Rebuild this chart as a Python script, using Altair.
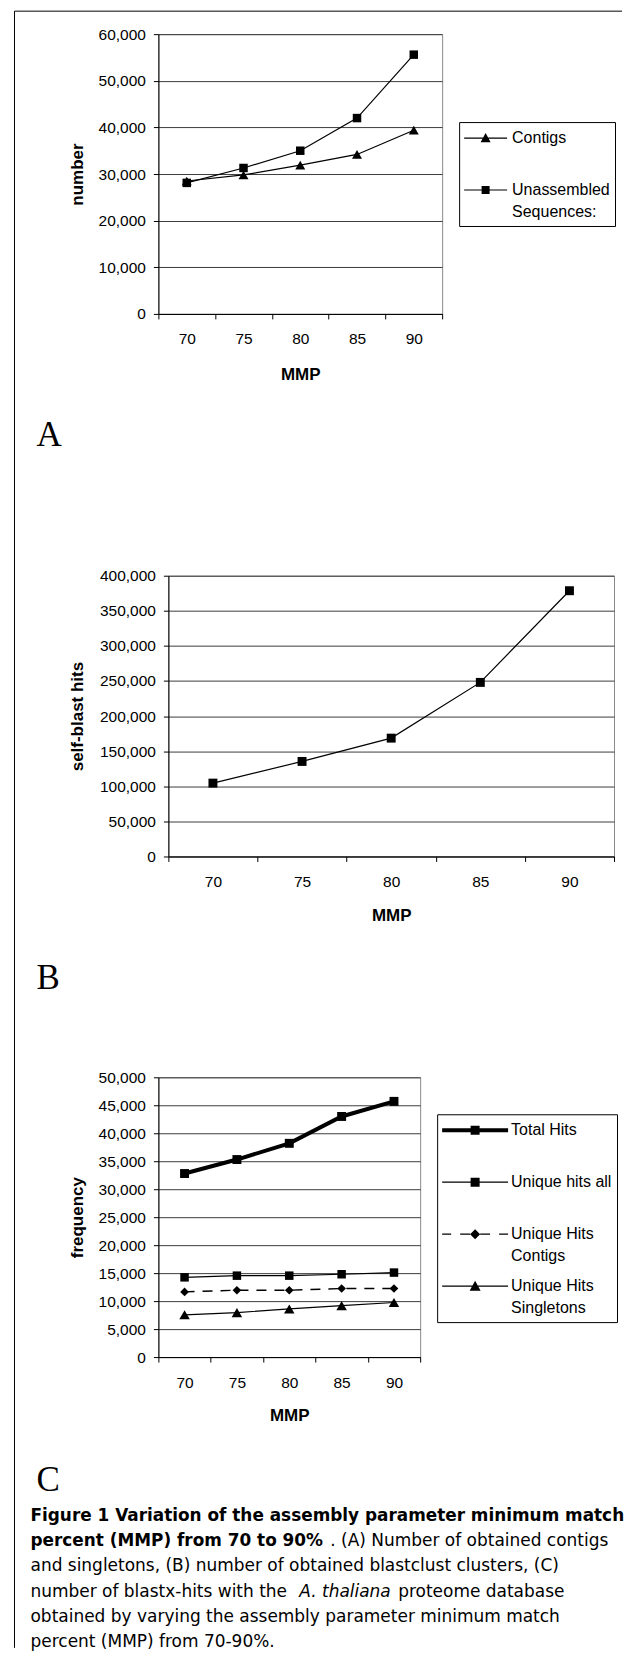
import altair as alt
import pandas as pd

# ---------------- data ----------------
MMP = [70, 75, 80, 85, 90]

A_SERIES = ["Contigs", "Unassembled|Sequences:"]
A_CONTIGS = [28500, 29800, 31900, 34200, 39400]
A_UNASSEMBLED = [28100, 31300, 35000, 42000, 55600]
A_TICKS = [0, 10000, 20000, 30000, 40000, 50000, 60000]

B_SERIES = ["self-blast hits"]
B_SELFBLAST = [104500, 135400, 168600, 248000, 378600]
B_TICKS = [0, 50000, 100000, 150000, 200000, 250000, 300000, 350000, 400000]

C_SERIES = ["Total Hits", "Unique hits all", "Unique Hits|Contigs", "Unique Hits|Singletons"]
C_TOTAL = [32800, 35300, 38200, 43000, 45700]
C_UNIQUE_ALL = [14250, 14550, 14550, 14800, 15100]
C_UNIQUE_CONTIGS = [11650, 11950, 11950, 12250, 12250]
C_UNIQUE_SINGLETONS = [7550, 7950, 8600, 9200, 9750]
C_TICKS = [0, 5000, 10000, 15000, 20000, 25000, 30000, 35000, 40000, 45000, 50000]

CAPTION = [
    [("Figure 1 Variation of the assembly parameter minimum match", "bold")],
    [("percent (MMP) from 70 to 90%", "bold"), (". (A) Number of obtained contigs", "normal")],
    [("and singletons, (B) number of obtained blastclust clusters, (C)", "normal")],
    [("number of blastx-hits with the", "normal"), ("A. thaliana", "italic"), ("proteome database", "normal")],
    [("obtained by varying the assembly parameter minimum match", "normal")],
    [("percent (MMP) from 70-90%.", "normal")],
]

# ---------------- layout (page pixels) ----------------
LAB = "Liberation Sans"
SERIF = "Liberation Serif"
CAPFONT = "DejaVu Sans"

A_O = (158, 33); A_W, A_H = 284, 280
B_O = (168, 575); B_W, B_H = 446, 281
C_O = (158, 1077); C_W, C_H = 262, 280
TITLE_X_ABS = 77
LETTER_X_ABS = 36
CAP_X = [[30], [30, 330], [30], [30, 299, 398], [30], [30]]
CAP_Y = [1516, 1541, 1566, 1592, 1617, 1642]
FRAME = dict(left=14, top=10, bottom=1648, right=622)
LEG_CELL = 22          # legend symbol cell (px)


def long_df(names, lists):
    rows = []
    for n, vals in zip(names, lists):
        for m, v in zip(MMP, vals):
            rows.append({"series": n, "mmp": m, "value": v})
    return pd.DataFrame(rows)


def encodings(ticks, ymax, origin, h, y_title, x_title_y):
    x = alt.X("mmp:O",
              scale=alt.Scale(type="band", paddingInner=0, paddingOuter=0),
              axis=alt.Axis(title="MMP", labelAngle=0, tickBand="extent", grid=False,
                            domainColor="black", tickColor="black", tickSize=5,
                            labelPadding=13, labelFont=LAB, labelFontSize=15.5,
                            labelColor="black", titleFont=LAB, titleFontSize=17,
                            titleFontWeight="bold", titleColor="black",
                            titleY=x_title_y, titleBaseline="middle"))
    y = alt.Y("value:Q",
              scale=alt.Scale(domain=[0, ymax], nice=False, zero=True),
              axis=alt.Axis(title=y_title, values=ticks, format=",d", grid=True,
                            gridColor="#3c3c3c", gridWidth=1, domainColor="black",
                            tickColor="black", tickSize=5, labelPadding=8,
                            labelFont=LAB, labelFontSize=15.5, labelColor="black",
                            titleFont=LAB, titleFontSize=17, titleFontWeight="bold",
                            titleColor="black", titleX=TITLE_X_ABS - origin[0],
                            titleY=h / 2, titleAngle=270, titleAlign="center",
                            titleBaseline="middle"))
    return x, y


def series_layers(df, order, lstyles, mstyles, x, y):
    lines, marks = [], []
    for name, ls, ms in zip(order, lstyles, mstyles):
        kw = dict(color="black", strokeWidth=ls["w"])
        if ls.get("dash"):
            kw["strokeDash"] = ls["dash"]
        lines.append(alt.Chart(df).transform_filter(alt.datum.series == name)
                     .mark_line(**kw).encode(x=x, y=y))
        marks.append(alt.Chart(df).transform_filter(alt.datum.series == name)
                     .mark_point(shape=ms["shape"], size=ms["size"], filled=True,
                                 color="black", opacity=1).encode(x=x, y=y))
    return lines + marks


def text_mark(text, x, y, font, size, weight="normal", style="normal"):
    return alt.Chart(pd.DataFrame({"t": [text]})).mark_text(
        align="left", baseline="middle", font=font, fontSize=size,
        fontWeight=weight, fontStyle=style, color="black"
    ).encode(text="t:N", x=alt.value(x), y=alt.value(y))


def path_from_px(parts, unit):
    out = []
    for p in parts:
        cmd = p[0]
        if cmd in ("M", "L"):
            out.append(f"{cmd}{p[1] / unit:.4f},{p[2] / unit:.4f}")
        elif cmd == "H":
            out.append(f"H{p[1] / unit:.4f}")
        elif cmd == "V":
            out.append(f"V{p[1] / unit:.4f}")
        else:
            out.append("Z")
    return "".join(out)


def rect_px(x0, x1, y0, y1):
    return [("M", x0, y0), ("H", x1), ("V", y1), ("H", x0), ("Z",)]


def legend_symbol(width, thick, marker, dashes=None, bottom=30):
    # symbol centre sits LEG_CELL/2 from the entry's left edge; the drawn line
    # starts at the entry's left edge and runs `width` px to the right.
    unit = LEG_CELL / 2.0
    left = -LEG_CELL / 2.0
    mid = left + width / 2.0
    parts = [("M", 0, -LEG_CELL / 2.0), ("M", 0, bottom)]
    if dashes:
        for a, b in dashes:
            parts += rect_px(left + a, left + b, -thick / 2, thick / 2)
    else:
        parts += rect_px(left, left + width, -thick / 2, thick / 2)
    kind, s = marker
    if kind == "square":
        parts += rect_px(mid - s, mid + s, -s, s)
    elif kind == "triangle":
        parts += [("M", mid, -s), ("L", mid + s, s * 0.85), ("L", mid - s, s * 0.85), ("Z",)]
    elif kind == "diamond":
        parts += [("M", mid, -s), ("L", mid + s, 0), ("L", mid, s), ("L", mid - s, 0), ("Z",)]
    return path_from_px(parts, unit)


def legend_layer(df, order, paths, lx, ly, label_x, x, y):
    return alt.Chart(df).mark_point(filled=True, opacity=0, color="black").encode(
        x=x, y=y,
        shape=alt.Shape("series:N",
                        scale=alt.Scale(domain=order, range=paths),
                        legend=alt.Legend(
                            title=None, orient="none", legendX=lx, legendY=ly,
                            direction="vertical", padding=5, strokeColor="black",
                            fillColor="white", symbolSize=LEG_CELL * LEG_CELL,
                            symbolStrokeWidth=0, symbolFillColor="black",
                            symbolStrokeColor="black", symbolOpacity=1,
                            labelFont=LAB, labelFontSize=16, labelColor="black",
                            labelOffset=label_x - LEG_CELL, rowPadding=10, labelLimit=300,
                            labelExpr="split(datum.label, '|')")))


def frame_layers(origin):
    ox, oy = origin
    d = pd.DataFrame({"k": [0]})
    v = alt.Chart(d).mark_rule(color="black", strokeWidth=1).encode(
        x=alt.value(FRAME["left"] - ox), y=alt.value(FRAME["top"] - oy),
        y2=alt.value(FRAME["bottom"] - oy))
    h = alt.Chart(d).mark_rule(color="black", strokeWidth=1).encode(
        x=alt.value(FRAME["left"] - ox), x2=alt.value(FRAME["right"] - ox),
        y=alt.value(FRAME["top"] - oy))
    return [v, h]


def spacer(w, h):
    return alt.Chart(pd.DataFrame({"s": [0]})).mark_point(opacity=0).encode(
        x=alt.value(0), y=alt.value(0)
    ).properties(width=w, height=h, view=alt.ViewBackground(strokeOpacity=0))


# ---------------- panel A ----------------
dfA = long_df(A_SERIES, [A_CONTIGS, A_UNASSEMBLED])
xA, yA = encodings(A_TICKS, 60000, A_O, A_H, "number", 374 - (A_O[1] + A_H))
layersA = series_layers(dfA, A_SERIES,
                        [{"w": 1.2}, {"w": 1.2}],
                        [{"shape": "triangle-up", "size": 100}, {"shape": "square", "size": 72}],
                        xA, yA)
pathsA = [legend_symbol(43, 1.2, ("triangle", 5)), legend_symbol(43, 1.2, ("square", 4))]
layersA.append(legend_layer(dfA, A_SERIES, pathsA, 459 - A_O[0], 121 - A_O[1], 48, xA, yA))
layersA += frame_layers(A_O)
layersA.append(text_mark("A", LETTER_X_ABS - A_O[0], 434 - A_O[1], SERIF, 35))
chartA = alt.layer(*layersA).properties(width=A_W, height=A_H)

# ---------------- panel B ----------------
dfB = long_df(B_SERIES, [B_SELFBLAST])
xB, yB = encodings(B_TICKS, 400000, B_O, B_H, "self-blast hits", 915 - (B_O[1] + B_H))
layersB = series_layers(dfB, B_SERIES, [{"w": 1.2}], [{"shape": "square", "size": 80}], xB, yB)
layersB.append(text_mark("B", LETTER_X_ABS - B_O[0], 978 - B_O[1], SERIF, 35))
chartB = alt.layer(*layersB).properties(width=B_W, height=B_H)

# ---------------- panel C ----------------
dfC = long_df(C_SERIES, [C_TOTAL, C_UNIQUE_ALL, C_UNIQUE_CONTIGS, C_UNIQUE_SINGLETONS])
xC, yC = encodings(C_TICKS, 50000, C_O, C_H, "frequency", 1415 - (C_O[1] + C_H))
layersC = series_layers(dfC, C_SERIES,
                        [{"w": 4}, {"w": 1.2}, {"w": 1.4, "dash": [10, 8]}, {"w": 1.2}],
                        [{"shape": "square", "size": 80}, {"shape": "square", "size": 72},
                         {"shape": "diamond", "size": 75}, {"shape": "triangle-up", "size": 110}],
                        xC, yC)
pathsC = [
    legend_symbol(66, 4, ("square", 4.5)),
    legend_symbol(66, 1.2, ("square", 4.5)),
    legend_symbol(66, 1.4, ("diamond", 5), dashes=[(0, 9), (18, 28), (38, 48), (57, 66)]),
    legend_symbol(66, 1.2, ("triangle", 5.5)),
]
layersC.append(legend_layer(dfC, C_SERIES, pathsC, 437 - C_O[0], 1114 - C_O[1], 69, xC, yC))
layersC.append(text_mark("C", LETTER_X_ABS - C_O[0], 1480 - C_O[1], SERIF, 35))
for segs, xs, ly in zip(CAPTION, CAP_X, CAP_Y):
    for (txt, sty), sx in zip(segs, xs):
        weight = "bold" if sty == "bold" else "normal"
        fstyle = "italic" if sty == "italic" else "normal"
        size = 16.9 if sty == "bold" else 17
        layersC.append(text_mark(txt, sx - C_O[0], ly - C_O[1], CAPFONT, size, weight, fstyle))
chartC = alt.layer(*layersC).properties(width=C_W, height=C_H)

# ---------------- assemble (flush bounds) ----------------
GAP1 = B_O[1] - (A_O[1] + A_H)
GAP2 = C_O[1] - (B_O[1] + B_H)
rowB = alt.hconcat(spacer(B_O[0] - A_O[0], 1), chartB, spacing=0, bounds="flush")
# a nested concat counts as zero height in a flush layout, so the spacer after
# it also carries panel B's own height
chart = alt.vconcat(
    chartA, spacer(1, GAP1), rowB, spacer(1, B_H + GAP2), chartC,
    spacing=0, bounds="flush",
).resolve_scale(shape="independent").resolve_legend(shape="independent").properties(
    padding={"left": 5.5, "top": 1.5, "right": 0, "bottom": 0}
).configure(
    view=alt.ViewConfig(stroke="#8a8a8a", strokeWidth=1),
    style={"guide-label": {"lineHeight": 22}},
)

chart.save("out.html", embed_options={"renderer": "svg", "actions": False})
